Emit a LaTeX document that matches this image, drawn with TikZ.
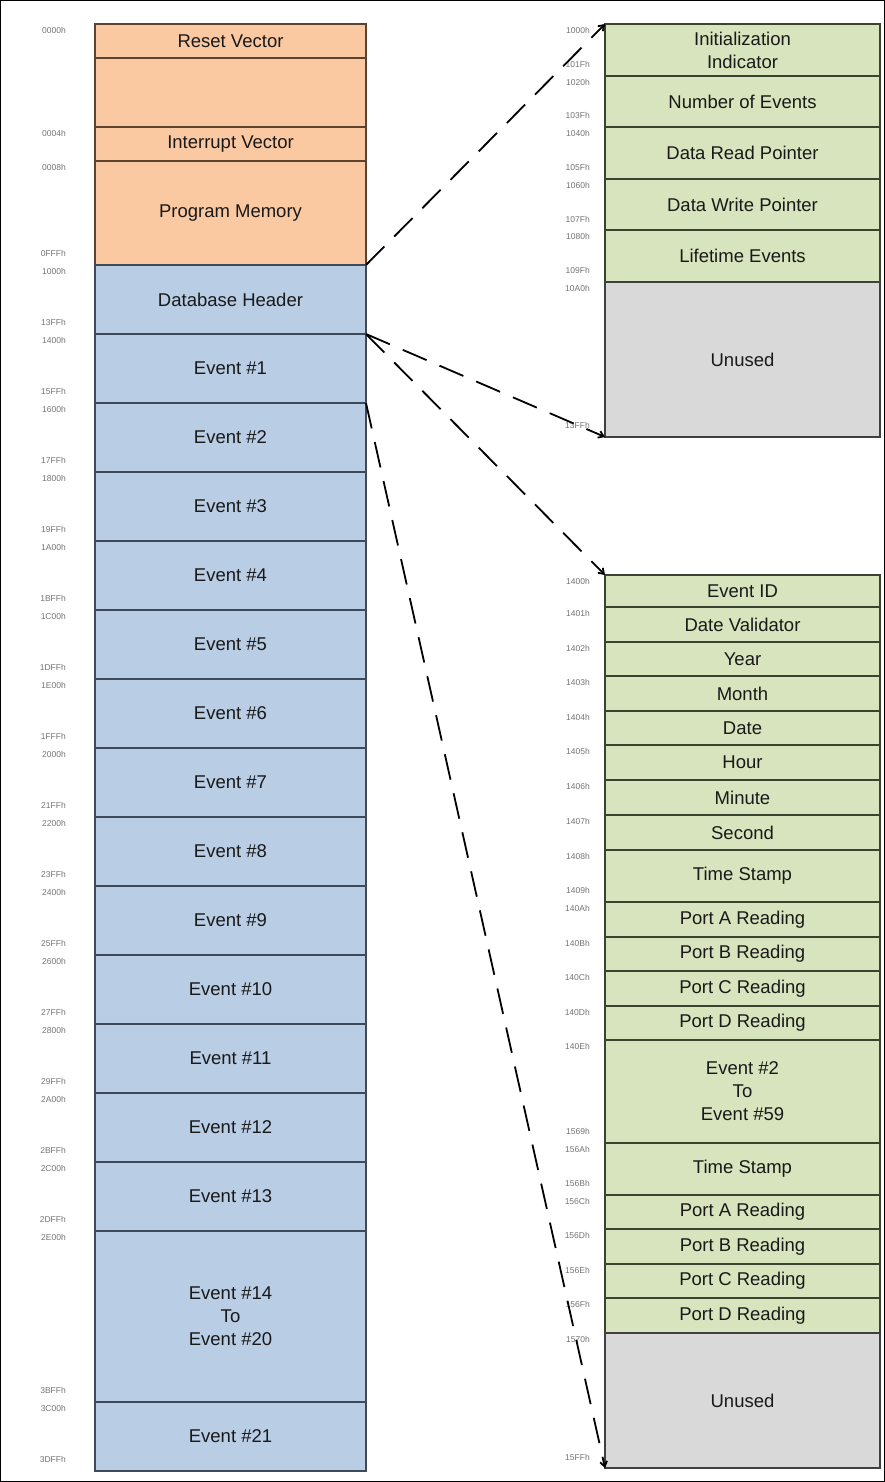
\documentclass[tikz,border=0pt]{standalone}
\usepackage{fontspec}
\setmainfont{Liberation Sans}
\usetikzlibrary{positioning,arrows.meta}

\definecolor{romfill}{HTML}{FAC9A2}
\definecolor{romline}{HTML}{5C4330}
\definecolor{evfill}{HTML}{B9CDE5}
\definecolor{evline}{HTML}{3E4A5A}
\definecolor{fldfill}{HTML}{D7E4BD}
\definecolor{fldline}{HTML}{3A4230}
\definecolor{unfill}{HTML}{D9D9D9}

\begin{document}
\begin{tikzpicture}[x=1pt, y=-1pt,
    cell/.style={draw, line width=1.6pt, inner sep=0pt, outer sep=0pt, anchor=north west,
                 align=center, text=black!90, font=\fontsize{18.5}{23}\selectfont},
    rom/.style={cell, fill=romfill, draw=romline, minimum width=271},
    ev/.style={cell, fill=evfill, draw=evline, minimum width=271},
    fld/.style={cell, fill=fldfill, draw=fldline, minimum width=275},
    unused/.style={cell, fill=unfill, draw=black!75, minimum width=275},
    addr/.style={font=\fontsize{8.5}{9}\selectfont, text=black!55, anchor=east, inner sep=0pt},
    link/.style={line width=1.8pt, dash pattern=on 26pt off 14pt, -{Straight Barb[length=5pt,width=7pt]}},
]
\useasboundingbox (0,0) rectangle (885,1482);
\draw[line width=1pt] (0.5,0.5) rectangle (884.5,1481.5);

% Left column: program memory
\def\lx{95}
\node[rom, minimum height=34] (reset) at (\lx,24) {Reset Vector};
\node[rom, minimum height=69] (spare) at (\lx,58) {};
\node[rom, minimum height=34] (irq) at (\lx,127) {Interrupt Vector};
\node[rom, minimum height=104] (prog) at (\lx,161) {Program Memory};

% Left column: database
\node[ev, minimum height=69] (dbh) at (\lx,265) {Database Header};
\foreach \n in {1,...,13}
  \node[ev, minimum height=69] (ev\n) at (\lx,{334+69*(\n-1)}) {Event \#\n};
\node[ev, minimum height=171] (ev14) at (\lx,1231) {Event \#14\\To\\Event \#20};
\node[ev, minimum height=69] (ev21) at (\lx,1402) {Event \#21};

% Left addresses
\node[addr] (a0000) at (66,30) {0000h};
\node[addr] (a0004) at (66,133) {0004h};
\node[addr] (a0008) at (66,167) {0008h};
\node[addr] (a0FFF) at (66,253) {0FFFh};
\node[addr] (a1000) at (66,271) {1000h};
\foreach \s/\e [count=\k] in {13FFh/1400h, 15FFh/1600h, 17FFh/1800h, 19FFh/1A00h,
    1BFFh/1C00h, 1DFFh/1E00h, 1FFFh/2000h, 21FFh/2200h, 23FFh/2400h, 25FFh/2600h,
    27FFh/2800h, 29FFh/2A00h, 2BFFh/2C00h, 2DFFh/2E00h} {
  \node[addr] (le\k) at (66,{334+69*(\k-1)-12}) {\s};
  \node[addr] (ls\k) at (66,{334+69*(\k-1)+6}) {\e};
}
\node[addr] (a3BFF) at (66,1390) {3BFFh};
\node[addr] (a3C00) at (66,1408) {3C00h};
\node[addr] (a3DFF) at (66,1459) {3DFFh};

% Right top: database header layout
\def\rx{605}
\node[fld, minimum height=52] (init) at (\rx,24) {Initialization\\Indicator};
\node[fld, minimum height=51] (count) at (\rx,76) {Number of Events};
\node[fld, minimum height=52] (rdptr) at (\rx,127) {Data Read Pointer};
\node[fld, minimum height=51] (wrptr) at (\rx,179) {Data Write Pointer};
\node[fld, minimum height=52] (life) at (\rx,230) {Lifetime Events};
\node[unused, minimum height=155] (hunused) at (\rx,282) {Unused};

\foreach \y/\t [count=\k] in {30/1000h, 64/101Fh, 82/1020h, 115/103Fh, 133/1040h,
    167/105Fh, 185/1060h, 219/107Fh, 236/1080h, 270/109Fh, 288/10A0h, 425/13FFh}
  \node[addr] (hb\k) at (590,\y) {\t};

% Right bottom: event record layout
\foreach \top/\bot/\t [count=\k] in {575/607/Event ID, 607/642/Date Validator,
    642/676/Year, 676/711/Month, 711/745/Date, 745/780/Hour, 780/815/Minute,
    815/850/Second, 850/902/Time Stamp, 902/937/Port A Reading, 937/971/Port B Reading,
    971/1006/Port C Reading, 1006/1040/Port D Reading,
    1040/1143/Event \#2\\To\\Event \#59, 1143/1195/Time Stamp,
    1195/1229/Port A Reading, 1229/1264/Port B Reading,
    1264/1298/Port C Reading, 1298/1333/Port D Reading}
  \node[fld, minimum height={\bot-\top}] (f\k) at (\rx,\top) {\t};
\node[unused, minimum height=135] (eunused) at (\rx,1333) {Unused};

\foreach \y/\t [count=\k] in {581/1400h, 613/1401h, 648/1402h, 682/1403h, 717/1404h,
    751/1405h, 786/1406h, 821/1407h, 856/1408h, 890/1409h, 908/140Ah, 943/140Bh,
    977/140Ch, 1012/140Dh, 1046/140Eh, 1131/1569h, 1149/156Ah, 1183/156Bh,
    1201/156Ch, 1235/156Dh, 1270/156Eh, 1304/156Fh, 1339/1570h, 1457/15FFh}
  \node[addr] (eb\k) at (590,\y) {\t};

% Zoom lines
\draw[link] (prog.south east) -- (init.north west);
\draw[link] (ev1.north east) -- (hunused.south west);
\draw[link] (ev1.north east) -- (f1.north west);
\draw[link] (ev2.north east) -- (eunused.south west);
\end{tikzpicture}
\end{document}
